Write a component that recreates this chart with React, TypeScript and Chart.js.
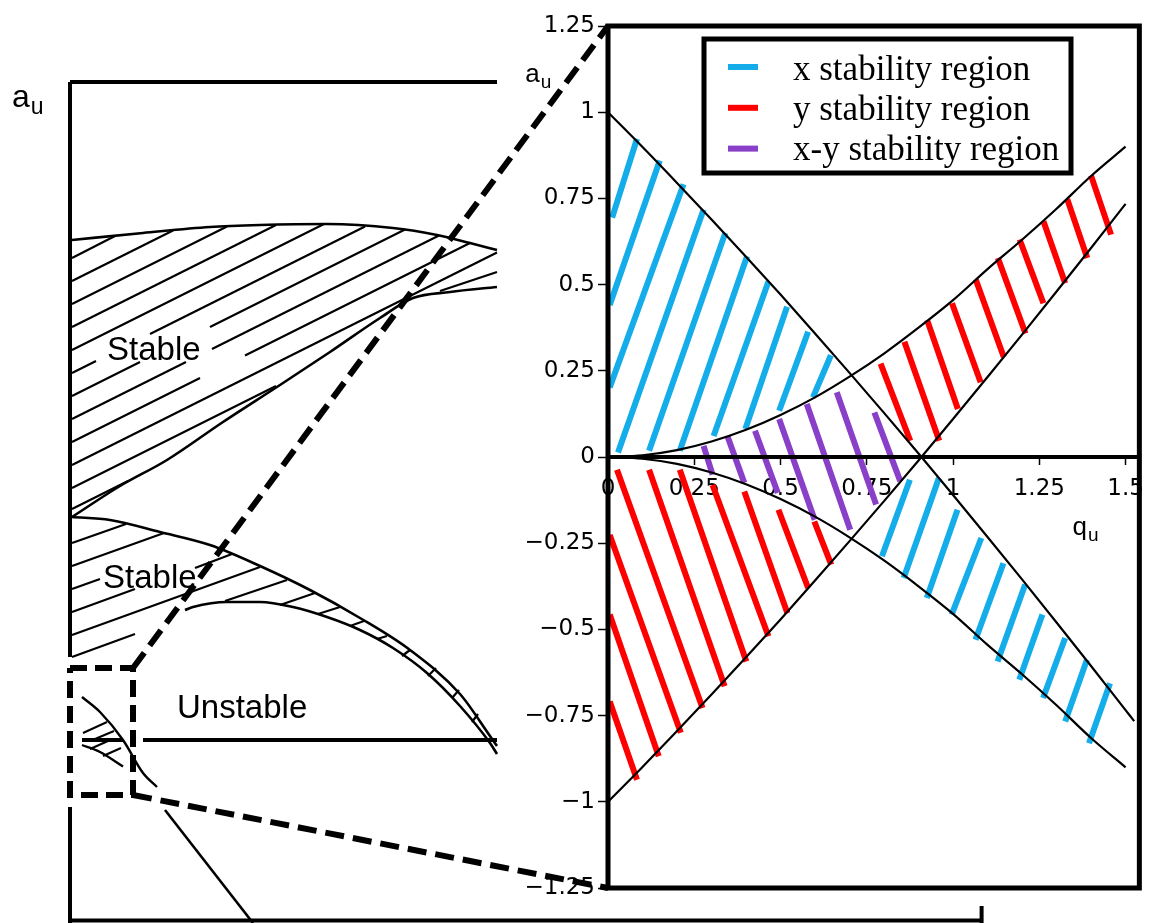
import React, { useEffect, useRef } from "react";
import { Chart, registerables } from "chart.js";

Chart.register(...registerables);

// ================= Right panel (zoomed stability diagram) =================
const qGrid = [0, 0.1, 0.2, 0.3, 0.4, 0.5, 0.6, 0.7, 0.8, 0.9, 1.0, 1.1, 1.2, 1.3, 1.4, 1.5];
const b1Q = [0, 0.1, 0.2, 0.3, 0.4, 0.5, 0.6, 0.7, 0.8, 0.9, 1.0, 1.1, 1.2, 1.3, 1.4, 1.5, 1.525];
const b1A = [1, 0.899, 0.795, 0.689, 0.581, 0.471, 0.358, 0.244, 0.128, 0.01, -0.11, -0.232, -0.355, -0.48, -0.606, -0.734, -0.766];
const upperYBoundaryA = [0, 0.005, 0.02, 0.045, 0.079, 0.122, 0.173, 0.233, 0.3, 0.375, 0.455, 0.545, 0.63, 0.72, 0.815, 0.9];
const lowerXBoundaryA = [0, -0.005, -0.02, -0.045, -0.079, -0.122, -0.173, -0.233, -0.3, -0.375, -0.455, -0.545, -0.63, -0.72, -0.815, -0.9];
const lowerYBoundaryA = [-1, -0.899, -0.795, -0.689, -0.581, -0.471, -0.358, -0.244, -0.128, -0.01, 0.11, 0.232, 0.355, 0.48, 0.606, 0.734];

// hatch segments [q1, a1, q2, a2]
const xHatchUpperLeft = [
  [0.012, 0.694, 0.084, 0.923],
  [0.005, 0.441, 0.15, 0.86],
  [0.005, 0.202, 0.219, 0.791],
  [0.029, 0.013, 0.277, 0.718],
  [0.119, 0.018, 0.34, 0.65],
  [0.208, 0.018, 0.403, 0.582],
  [0.306, 0.061, 0.465, 0.509],
  [0.398, 0.081, 0.519, 0.436],
  [0.496, 0.134, 0.58, 0.363],
  [0.594, 0.173, 0.646, 0.295],
];
const xHatchLowerRight = [
  [0.794, -0.288, 0.875, -0.066],
  [0.857, -0.351, 0.959, -0.061],
  [0.924, -0.409, 1.013, -0.153],
  [0.996, -0.457, 1.082, -0.235],
  [1.065, -0.53, 1.146, -0.308],
  [1.129, -0.593, 1.209, -0.37],
  [1.192, -0.646, 1.259, -0.457],
  [1.261, -0.699, 1.325, -0.525],
  [1.325, -0.767, 1.388, -0.588],
  [1.394, -0.83, 1.455, -0.656],
];
const yHatchUpperRight = [
  [0.79, 0.271, 0.876, 0.047],
  [0.859, 0.334, 0.96, 0.047],
  [0.925, 0.397, 1.014, 0.139],
  [0.997, 0.446, 1.08, 0.217],
  [1.066, 0.514, 1.147, 0.29],
  [1.13, 0.577, 1.21, 0.358],
  [1.193, 0.631, 1.262, 0.446],
  [1.262, 0.684, 1.325, 0.504],
  [1.331, 0.748, 1.389, 0.577],
  [1.4, 0.816, 1.458, 0.645],
];
const yHatchLowerLeft = [
  [0.005, -0.709, 0.084, -0.936],
  [0.005, -0.457, 0.147, -0.868],
  [0.005, -0.226, 0.211, -0.8],
  [0.026, -0.037, 0.274, -0.728],
  [0.119, -0.037, 0.338, -0.665],
  [0.208, -0.037, 0.401, -0.593],
  [0.303, -0.081, 0.465, -0.52],
  [0.395, -0.1, 0.52, -0.453],
  [0.494, -0.153, 0.58, -0.38],
  [0.598, -0.187, 0.647, -0.312],
];
const xyHatch = [
  [0.277, 0.032, 0.303, -0.051],
  [0.346, 0.061, 0.395, -0.075],
  [0.426, 0.076, 0.492, -0.104],
  [0.496, 0.11, 0.599, -0.182],
  [0.576, 0.154, 0.702, -0.211],
  [0.663, 0.188, 0.777, -0.138],
  [0.772, 0.129, 0.847, -0.07],
];
const zeroLineQ = [0, 1.54];

const xTickValues = [0, 0.25, 0.5, 0.75, 1, 1.25, 1.5];
const xTickLabels = ["0", "0.25", "0.5", "0.75", "1", "1.25", "1.5"];
const yTickValues = [-1.25, -1, -0.75, -0.5, -0.25, 0, 0.25, 0.5, 0.75, 1, 1.25];
const yTickLabels = ["\u22121.25", "\u22121", "\u22120.75", "\u22120.5", "\u22120.25", "0", "0.25", "0.5", "0.75", "1", "1.25"];

const legendLabels = ["x stability region", "y stability region", "x-y stability region"];
const legendColors = ["#14ADEA", "#FF0000", "#8A3FC8"];

const rightTitles = [
  { main: "a", sub: "u", q: -0.2395, a: 1.0876 },
  { main: "q", sub: "u", q: 1.346, a: -0.226 },
];

// ================= Left panel (schematic diagram, schematic units) =================
const frameSegs = [
  [0, 13.16, 10.675, 13.16],
  [0, 13.16, 0, 1.66],
  [0, -1.34, 0, -3.7],
  [0, -3.61, 22.79, -3.61],
  [22.79, -3.32, 22.79, -3.7],
  [1.825, 0, 10.675, 0],
  [0.3, 0, 1.325, 0],
];
const region1TopQ = [0.05, 1.825, 3.5, 4.75, 6.425, 8.075, 9.175, 10.0, 10.675];
const region1TopA = [10.0, 10.14, 10.26, 10.3, 10.32, 10.24, 10.1, 9.94, 9.8];
const region1BottomQ = [0.05, 1.25, 2.425, 3.825, 5.25, 6.5, 7.75, 8.575, 9.5, 10.675];
const region1BottomA = [4.46, 5.08, 5.6, 6.36, 7.1, 7.76, 8.44, 8.84, 8.96, 9.06];
const region2TopQ = [0.05, 1.0, 2.25, 3.5, 4.75, 6.0, 7.25, 8.5, 9.75, 10.5, 10.675];
const region2TopA = [4.46, 4.4, 4.16, 3.9, 3.48, 3.0, 2.44, 1.8, 0.92, 0.08, -0.12];
const region2BottomQ = [2.875, 3.075, 3.925, 4.75, 5.575, 6.425, 7.25, 8.075, 8.925, 9.75, 10.5, 10.675];
const region2BottomA = [2.6, 2.66, 2.76, 2.76, 2.66, 2.46, 2.2, 1.84, 1.34, 0.68, -0.06, -0.28];
const smallUpperQ = [0.3, 0.75, 1.325, 1.825, 2.175];
const smallUpperA = [0.86, 0.56, 0, -0.66, -0.94];
const smallLowerQ = [0.3, 0.75, 1.325];
const smallLowerA = [-0.1, -0.24, -0.53];
const tailQ = [2.375, 4.575];
const tailA = [-1.4, -3.66];

const region1Hatch = [
  [0.05, 9.64, 1.125, 10.08],
  [0.05, 9.18, 2.575, 10.19],
  [0.05, 8.72, 3.925, 10.27],
  [0.05, 8.26, 5.15, 10.3],
  [0.05, 7.8, 6.35, 10.32],
  [0.05, 7.34, 0.65, 7.58],
  [2.0, 8.12, 7.375, 10.27],
  [0.05, 6.88, 1.75, 7.56],
  [3.5, 8.26, 8.375, 10.21],
  [0.05, 6.42, 2.9, 7.56],
  [3.55, 7.82, 9.225, 10.09],
  [0.05, 5.96, 3.25, 7.24],
  [4.375, 7.69, 10.0, 9.94],
  [0.05, 5.5, 10.675, 9.75],
  [0.05, 5.04, 5.15, 7.08],
  [0.05, 4.62, 1.45, 5.18],
  [9.25, 8.98, 10.675, 9.36],
];
const region2Hatch = [
  [0.05, 3.94, 1.4, 4.32],
  [0.05, 3.48, 2.35, 4.14],
  [0.05, 3.02, 0.75, 3.22],
  [0.05, 2.56, 1.625, 3.02],
  [3.125, 3.44, 4.05, 3.72],
  [0.05, 2.1, 4.75, 3.46],
  [0.05, 1.66, 1.625, 2.12],
  [3.875, 2.78, 5.425, 3.2],
  [5.25, 2.7, 6.125, 2.94],
  [6.2, 2.52, 6.75, 2.66],
  [7.0, 2.28, 7.35, 2.38],
  [7.675, 2.02, 7.925, 2.08],
  [8.3, 1.68, 8.5, 1.8],
  [8.95, 1.28, 9.15, 1.44],
  [9.55, 0.84, 9.725, 1.0],
  [10.05, 0.36, 10.2, 0.52],
];
const smallHatch = [
  [0.325, 0.14, 0.925, 0.36],
  [0.625, 0.02, 1.1, 0.18],
  [0.5, -0.18, 0.95, -0.02],
  [0.825, -0.32, 1.275, -0.16],
];
const zoomBoxQ = [0, 1.575, 1.575, 0, 0];
const zoomBoxA = [1.44, 1.44, -1.1, -1.1, 1.44];
const connectorSegs = [
  [1.575, 1.44, 13.45, 14.28],
  [1.575, -1.1, 13.45, -2.96],
];
const leftLabels = [
  { text: "Stable", q: 0.925, a: 7.6 },
  { text: "Stable", q: 0.825, a: 3.04 },
  { text: "Unstable", q: 2.675, a: 0.44 },
];
const leftTitle = { main: "a", sub: "u", q: -1.45, a: 12.66 };

// ================= helpers =================
const segPoints = (segs: number[][]) =>
  segs.flatMap(([q1, a1, q2, a2]) => [
    { x: q1, y: a1 },
    { x: q2, y: a2 },
    { x: q2, y: null as any },
  ]);
const curvePoints = (qs: number[], as: number[]) => qs.map((q, i) => ({ x: q, y: as[i] }));

const SANS = "'Liberation Sans', Arial, Helvetica, sans-serif";
const TICKFONT = "'DejaVu Sans', sans-serif";
const SERIF = "'Liberation Serif', 'Times New Roman', serif";

const hatchDs = (segs: number[][], color: string) => ({
  data: segPoints(segs),
  borderColor: color,
  borderWidth: 6,
  borderCapStyle: "butt",
  pointRadius: 0,
  spanGaps: false,
  tension: 0,
  order: 2,
});
const curveDs = (qs: number[], as: number[], width = 2.2) => ({
  data: curvePoints(qs, as),
  borderColor: "#000",
  borderWidth: width,
  pointRadius: 0,
  tension: 0.4,
  cubicInterpolationMode: "monotone",
  order: 0,
});

const rightPlugin = {
  id: "rightDecor",
  beforeDatasetsDraw(chart: any) {
    const { ctx, chartArea: ca } = chart;
    ctx.save();
    ctx.globalCompositeOperation = "destination-over";
    ctx.fillStyle = "#fff";
    ctx.fillRect(ca.left, ca.top, ca.width, ca.height);
    ctx.restore();
  },
  afterDatasetsDraw(chart: any) {
    const { ctx, chartArea: ca, scales } = chart;
    ctx.save();
    ctx.strokeStyle = "#000";
    ctx.lineWidth = 5;
    ctx.strokeRect(ca.left, ca.top, ca.width, ca.height);

    // legend
    const lx = ca.left + 96;
    const ly = ca.top + 13;
    ctx.fillStyle = "#fff";
    ctx.fillRect(lx, ly, 367, 134);
    ctx.lineWidth = 5;
    ctx.strokeRect(lx, ly, 367, 134);
    legendLabels.forEach((label, i) => {
      const cy = ly + 28 + i * 40.8;
      ctx.strokeStyle = legendColors[i];
      ctx.lineWidth = 6;
      ctx.beginPath();
      ctx.moveTo(lx + 24, cy);
      ctx.lineTo(lx + 54, cy);
      ctx.stroke();
      ctx.fillStyle = "#000";
      ctx.font = `35px ${SERIF}`;
      ctx.textBaseline = "alphabetic";
      ctx.textAlign = "left";
      ctx.fillText(label, lx + 89, ly + 41 + i * 40);
    });

    // axis titles
    rightTitles.forEach((t) => {
      const px = scales.x.getPixelForValue(t.q);
      const py = scales.y.getPixelForValue(t.a);
      ctx.fillStyle = "#000";
      ctx.font = `26px ${SANS}`;
      ctx.fillText(t.main, px, py);
      const w = ctx.measureText(t.main).width;
      ctx.font = `19px ${SANS}`;
      ctx.fillText(t.sub, px + w + 1, py + 6);
    });
    ctx.restore();
  },
};

const leftPlugin = {
  id: "leftText",
  beforeDatasetsDraw(chart: any) {
    const { ctx, scales } = chart;
    ctx.save();
    ctx.fillStyle = "#000";
    ctx.textBaseline = "alphabetic";
    ctx.textAlign = "left";
    ctx.font = `33px ${SANS}`;
    leftLabels.forEach((l) => {
      ctx.fillText(l.text, scales.x.getPixelForValue(l.q), scales.y.getPixelForValue(l.a));
    });
    const px = scales.x.getPixelForValue(leftTitle.q);
    const py = scales.y.getPixelForValue(leftTitle.a);
    ctx.font = `32px ${SANS}`;
    ctx.fillText(leftTitle.main, px, py);
    const w = ctx.measureText(leftTitle.main).width;
    ctx.font = `23px ${SANS}`;
    ctx.fillText(leftTitle.sub, px + w + 1, py + 7);
    ctx.restore();
  },
};

export default function App() {
  const leftRef = useRef<HTMLCanvasElement>(null);
  const rightRef = useRef<HTMLCanvasElement>(null);

  useEffect(() => {
    const thinBlack = (segs: number[][], width: number) => ({
      data: segPoints(segs),
      borderColor: "#000",
      borderWidth: width,
      pointRadius: 0,
      spanGaps: false,
      tension: 0,
      order: 1,
    });
    const left = new Chart(leftRef.current!, {
      type: "line",
      data: {
        datasets: [
          {
            data: curvePoints(zoomBoxQ, zoomBoxA),
            borderColor: "#000",
            borderWidth: 6,
            borderDash: [17, 8],
            borderCapStyle: "butt",
            pointRadius: 0,
            tension: 0,
            order: 0,
          },
          {
            data: segPoints(connectorSegs),
            borderColor: "#000",
            borderWidth: 6,
            borderDash: [19, 9],
            borderCapStyle: "butt",
            pointRadius: 0,
            spanGaps: false,
            tension: 0,
            order: 0,
          },
          thinBlack(frameSegs, 4),
          curveDs(region1TopQ, region1TopA, 2.6),
          curveDs(region1BottomQ, region1BottomA, 2.6),
          curveDs(region2TopQ, region2TopA, 2.6),
          curveDs(region2BottomQ, region2BottomA, 2.6),
          curveDs(smallUpperQ, smallUpperA, 2.4),
          curveDs(smallLowerQ, smallLowerA, 2.4),
          curveDs(tailQ, tailA, 2.6),
          thinBlack(region1Hatch, 2.2),
          thinBlack(region2Hatch, 2.2),
          thinBlack(smallHatch, 2),
        ] as any,
      },
      options: {
        responsive: false,
        animation: false,
        devicePixelRatio: 1,
        events: [],
        layout: { padding: 0 },
        plugins: { legend: { display: false }, tooltip: { enabled: false } },
        scales: {
          x: { type: "linear", display: false, min: -1.75, max: 27.1 },
          y: { type: "linear", display: false, min: -3.66, max: 14.8 },
        },
      } as any,
      plugins: [leftPlugin],
    });

    const right = new Chart(rightRef.current!, {
      type: "line",
      data: {
        datasets: [
          curveDs(b1Q, b1A),
          curveDs(qGrid, upperYBoundaryA),
          curveDs(qGrid, lowerXBoundaryA),
          curveDs(qGrid, lowerYBoundaryA),
          {
            data: zeroLineQ.map((q) => ({ x: q, y: 0 })),
            borderColor: "#000",
            borderWidth: 4,
            pointRadius: 0,
            order: 0,
          },
          hatchDs(xHatchUpperLeft, legendColors[0]),
          hatchDs(xHatchLowerRight, legendColors[0]),
          hatchDs(yHatchUpperRight, legendColors[1]),
          hatchDs(yHatchLowerLeft, legendColors[1]),
          hatchDs(xyHatch, legendColors[2]),
        ] as any,
      },
      options: {
        responsive: false,
        animation: false,
        devicePixelRatio: 1,
        events: [],
        layout: { padding: { left: 508, top: 26, right: 6, bottom: 35 } },
        plugins: { legend: { display: false }, tooltip: { enabled: false } },
        scales: {
          x: {
            type: "linear",
            min: 0,
            max: 1.54,
            position: { y: 0 },
            afterBuildTicks: (s: any) => {
              s.ticks = xTickValues.map((v) => ({ value: v }));
            },
            ticks: {
              callback: (_v: any, i: number) => xTickLabels[i],
              font: { family: TICKFONT, size: 23 },
              color: "#000",
              padding: 10,
              maxRotation: 0,
              autoSkip: false,
            },
            grid: { display: true, drawOnChartArea: false, drawTicks: true, tickLength: 8, tickColor: "#000", tickWidth: 1.5 },
            border: { display: false },
          },
          y: {
            type: "linear",
            min: -1.25,
            max: 1.25,
            position: "left",
            afterBuildTicks: (s: any) => {
              s.ticks = yTickValues.map((v) => ({ value: v }));
            },
            afterFit: (s: any) => {
              s.width = 100;
            },
            ticks: {
              callback: (_v: any, i: number) => yTickLabels[i],
              font: { family: TICKFONT, size: 23 },
              color: "#000",
              padding: 3,
              autoSkip: false,
            },
            grid: { display: true, drawOnChartArea: false, drawTicks: true, tickLength: 10, tickColor: "#000", tickWidth: 1.5 },
            border: { display: false },
          },
        },
      } as any,
      plugins: [rightPlugin],
    });

    return () => {
      left.destroy();
      right.destroy();
    };
  }, []);

  return (
    <div style={{ position: "fixed", left: 0, top: 0, width: 1154, height: 923, background: "#fff", overflow: "hidden" }}>
      <canvas ref={leftRef} width={1154} height={923} style={{ position: "absolute", left: 0, top: 0, width: 1154, height: 923 }} />
      <canvas ref={rightRef} width={1154} height={923} style={{ position: "absolute", left: 0, top: 0, width: 1154, height: 923 }} />
    </div>
  );
}
